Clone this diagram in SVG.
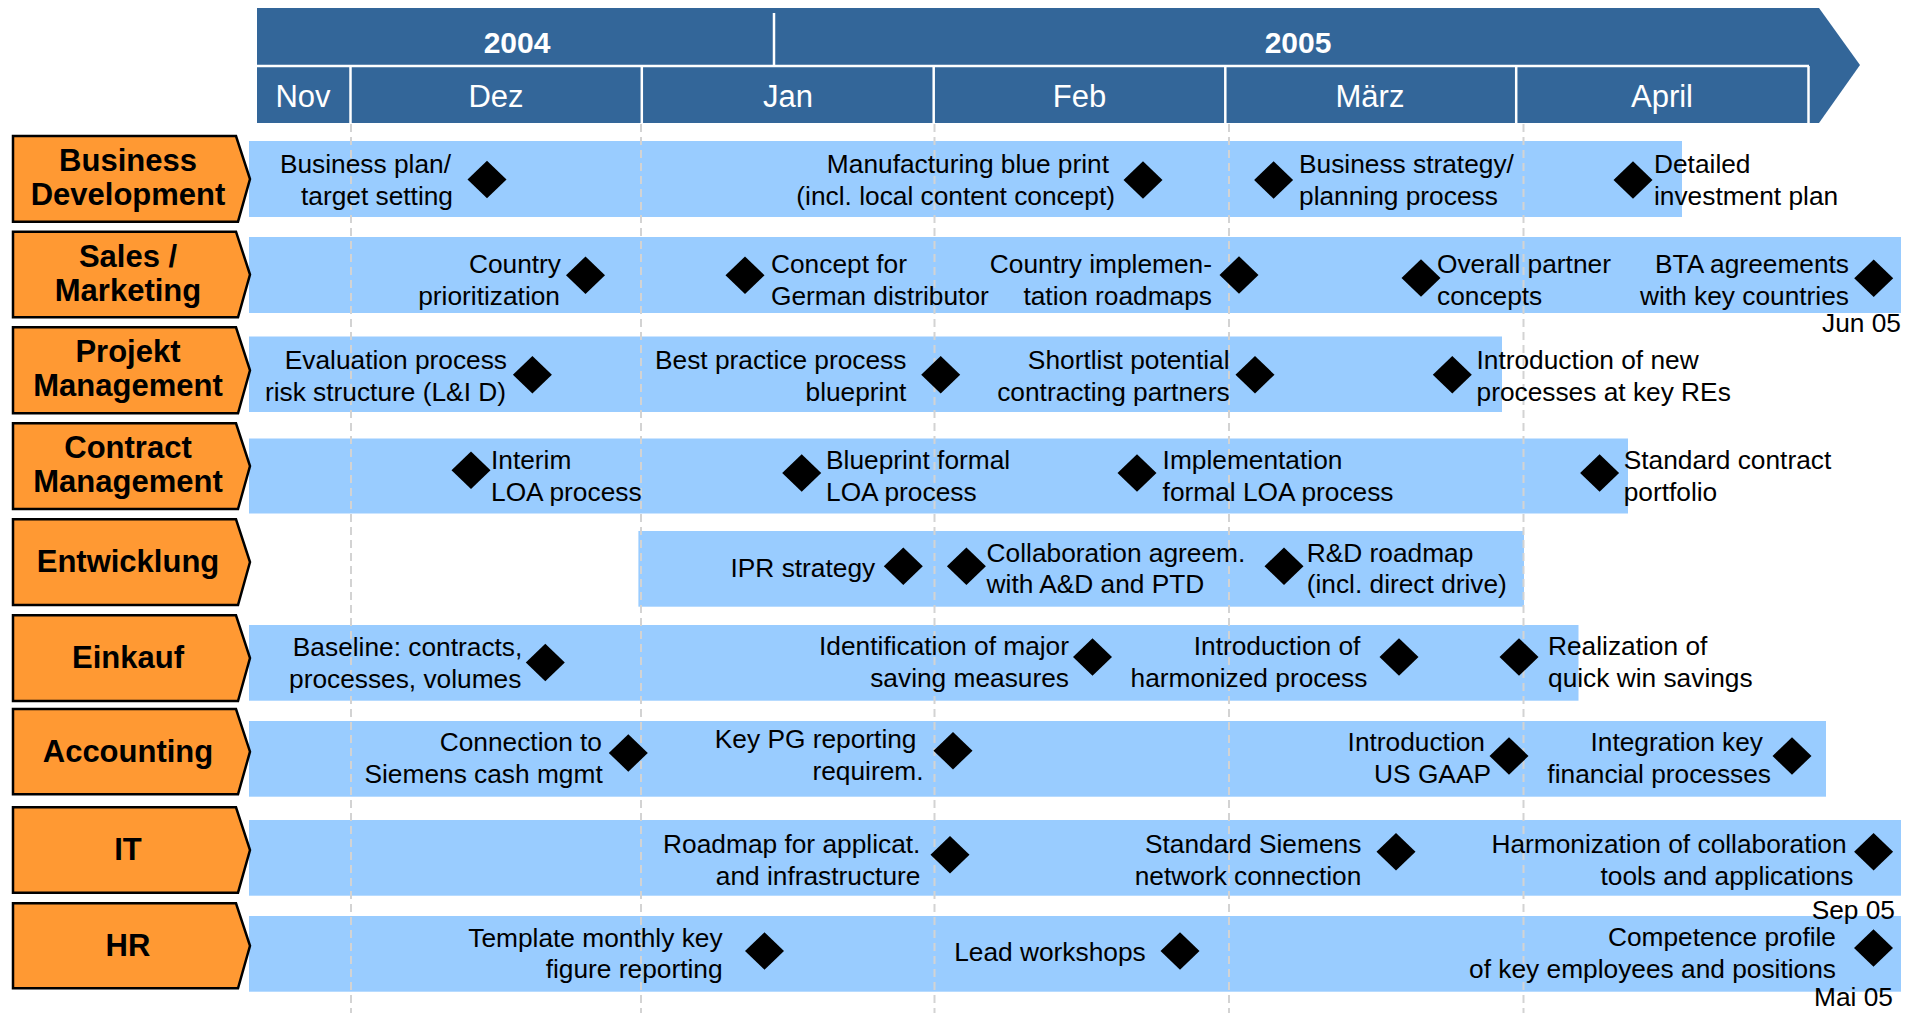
<svg xmlns="http://www.w3.org/2000/svg" xmlns:xlink="http://www.w3.org/1999/xlink" width="1921" height="1013" viewBox="0 0 1921 1013">
  <defs>
    <style>
      .hdr { fill: #336699; }
      .sep { stroke: #ffffff; stroke-width: 2.5; fill: none; }
      .yr { font-family: "Liberation Sans", Arial, sans-serif; font-size: 30px; font-weight: bold; fill: #ffffff; text-anchor: middle; }
      .mo { font-family: "Liberation Sans", Arial, sans-serif; font-size: 31px; fill: #ffffff; text-anchor: middle; }
      .lbl { fill: #ff9933; stroke: #000000; stroke-width: 2.5; stroke-linejoin: miter; }
      .lt { font-family: "Liberation Sans", Arial, sans-serif; font-size: 31px; font-weight: bold; fill: #000000; text-anchor: middle; }
      .bar { fill: #99ccff; }
      .grid { stroke: #d3d3d3; stroke-width: 2; stroke-dasharray: 8 5; fill: none; }
      .t { font-family: "Liberation Sans", Arial, sans-serif; font-size: 26.3px; fill: #000000; }
      .e { text-anchor: end; }
      .s { text-anchor: start; }
      .ms { fill: #000000; }
    </style>
    <path id="ms" class="ms" d="M0,-18.7 L19.5,0 L0,18.7 L-19.5,0 Z"/>
  </defs>

  <rect width="1921" height="1013" fill="#ffffff"/>

  <!-- timeline header -->
  <g id="timeline">
    <polygon class="hdr" points="257,8 1819,8 1860,65 1819,123 257,123"/>
    <line class="sep" x1="257" y1="66" x2="1809" y2="66"/>
    <line class="sep" x1="774" y1="13" x2="774" y2="65"/>
    <line class="sep" x1="350.5" y1="66" x2="350.5" y2="123"/>
    <line class="sep" x1="641.8" y1="66" x2="641.8" y2="123"/>
    <line class="sep" x1="933.7" y1="66" x2="933.7" y2="123"/>
    <line class="sep" x1="1225.3" y1="66" x2="1225.3" y2="123"/>
    <line class="sep" x1="1516.2" y1="66" x2="1516.2" y2="123"/>
    <line class="sep" x1="1808.5" y1="66" x2="1808.5" y2="123"/>
    <text class="yr" x="517" y="53">2004</text>
    <text class="yr" x="1298" y="53">2005</text>
    <text class="mo" x="303" y="107">Nov</text>
    <text class="mo" x="496" y="107">Dez</text>
    <text class="mo" x="788" y="107">Jan</text>
    <text class="mo" x="1079.5" y="107">Feb</text>
    <text class="mo" x="1370" y="107">März</text>
    <text class="mo" x="1662" y="107">April</text>
  </g>

  <!-- activity bars -->
  <g id="bars">
    <rect class="bar" x="249" y="141" width="1433" height="76"/>
    <rect class="bar" x="249" y="237" width="1652" height="76"/>
    <rect class="bar" x="249" y="336.5" width="1253" height="75.5"/>
    <rect class="bar" x="249" y="438.5" width="1379" height="75"/>
    <rect class="bar" x="638.4" y="531" width="885.6" height="75.7"/>
    <rect class="bar" x="249" y="625" width="1329.5" height="75.7"/>
    <rect class="bar" x="249" y="721" width="1577" height="75.7"/>
    <rect class="bar" x="249" y="820" width="1652" height="75.7"/>
    <rect class="bar" x="249" y="916" width="1652" height="75.7"/>
  </g>

  <!-- month grid -->
  <g id="grid">
    <line class="grid" x1="351" y1="124" x2="351" y2="1013"/>
    <line class="grid" x1="641" y1="124" x2="641" y2="1013"/>
    <line class="grid" x1="934.5" y1="124" x2="934.5" y2="1013"/>
    <line class="grid" x1="1229" y1="124" x2="1229" y2="1013"/>
    <line class="grid" x1="1523.5" y1="124" x2="1523.5" y2="1013"/>
  </g>

  <!-- Business Development -->
  <g id="business-development">
    <polygon class="lbl" points="13,136 236,136 250,179 238,221.7 13,221.7"/>
    <text class="lt" x="128" y="171">Business</text>
    <text class="lt" x="128" y="205">Development</text>
    <text class="t e" x="451" y="173">Business plan/</text>
    <text class="t e" x="453" y="205">target setting</text>
    <use xlink:href="#ms" x="487" y="179.5"/>
    <text class="t e" x="1109" y="173">Manufacturing blue print</text>
    <text class="t e" x="1115" y="205">(incl. local content concept)</text>
    <use xlink:href="#ms" x="1143" y="180"/>
    <use xlink:href="#ms" x="1273.6" y="180"/>
    <text class="t s" x="1299" y="173">Business strategy/</text>
    <text class="t s" x="1299" y="205">planning process</text>
    <use xlink:href="#ms" x="1633" y="180"/>
    <text class="t s" x="1654" y="173">Detailed</text>
    <text class="t s" x="1654" y="205">investment plan</text>
  </g>

  <!-- Sales / Marketing -->
  <g id="sales-marketing">
    <polygon class="lbl" points="13,231.7 236,231.7 250,274.5 238,317.3 13,317.3"/>
    <text class="lt" x="128" y="266.5">Sales /</text>
    <text class="lt" x="128" y="300.5">Marketing</text>
    <text class="t e" x="561" y="273">Country</text>
    <text class="t e" x="560" y="305">prioritization</text>
    <use xlink:href="#ms" x="585.5" y="275.3"/>
    <use xlink:href="#ms" x="745" y="275.3"/>
    <text class="t s" x="771" y="273">Concept for</text>
    <text class="t s" x="771" y="305">German distributor</text>
    <text class="t e" x="1212" y="273">Country implemen-</text>
    <text class="t e" x="1212" y="305">tation roadmaps</text>
    <use xlink:href="#ms" x="1239" y="275"/>
    <use xlink:href="#ms" x="1421" y="278"/>
    <text class="t s" x="1437" y="273">Overall partner</text>
    <text class="t s" x="1437" y="305">concepts</text>
    <text class="t e" x="1849" y="273">BTA agreements</text>
    <text class="t e" x="1849" y="305">with key countries</text>
    <use xlink:href="#ms" x="1873.7" y="278.3"/>
    <text class="t e" x="1901" y="331.7">Jun 05</text>
  </g>

  <!-- Projekt Management -->
  <g id="projekt-management">
    <polygon class="lbl" points="13,327.3 236,327.3 250,370.3 238,413.3 13,413.3"/>
    <text class="lt" x="128" y="362">Projekt</text>
    <text class="lt" x="128" y="396">Management</text>
    <text class="t e" x="507" y="369">Evaluation process</text>
    <text class="t e" x="506" y="401">risk structure (L&amp;I D)</text>
    <use xlink:href="#ms" x="532.4" y="374.7"/>
    <text class="t e" x="906.4" y="369">Best practice process</text>
    <text class="t e" x="906.4" y="401">blueprint</text>
    <use xlink:href="#ms" x="940.7" y="374.7"/>
    <text class="t e" x="1229.6" y="369">Shortlist potential</text>
    <text class="t e" x="1229.6" y="401">contracting partners</text>
    <use xlink:href="#ms" x="1255" y="374.7"/>
    <use xlink:href="#ms" x="1452.3" y="374.7"/>
    <text class="t s" x="1476.5" y="369">Introduction of new</text>
    <text class="t s" x="1476.5" y="401">processes at key REs</text>
  </g>

  <!-- Contract Management -->
  <g id="contract-management">
    <polygon class="lbl" points="13,423.3 236,423.3 250,466 238,509 13,509"/>
    <text class="lt" x="128" y="458">Contract</text>
    <text class="lt" x="128" y="492">Management</text>
    <use xlink:href="#ms" x="471" y="470.3"/>
    <text class="t s" x="491" y="469">Interim</text>
    <text class="t s" x="491" y="501">LOA process</text>
    <use xlink:href="#ms" x="801.7" y="473"/>
    <text class="t s" x="826" y="469">Blueprint formal</text>
    <text class="t s" x="826" y="501">LOA process</text>
    <use xlink:href="#ms" x="1137" y="473"/>
    <text class="t s" x="1162.6" y="469">Implementation</text>
    <text class="t s" x="1162.6" y="501">formal LOA process</text>
    <use xlink:href="#ms" x="1599.6" y="473"/>
    <text class="t s" x="1623.7" y="469">Standard contract</text>
    <text class="t s" x="1623.7" y="501">portfolio</text>
  </g>

  <!-- Entwicklung -->
  <g id="entwicklung">
    <polygon class="lbl" points="13,519.3 236,519.3 250,562 238,605 13,605"/>
    <text class="lt" x="128" y="572">Entwicklung</text>
    <text class="t e" x="875.2" y="577">IPR strategy</text>
    <use xlink:href="#ms" x="903.3" y="566.3"/>
    <use xlink:href="#ms" x="966.4" y="566.3"/>
    <text class="t s" x="986.6" y="561.5">Collaboration agreem.</text>
    <text class="t s" x="986.6" y="593">with A&amp;D and PTD</text>
    <use xlink:href="#ms" x="1284" y="566.3"/>
    <text class="t s" x="1306.7" y="561.5">R&amp;D roadmap</text>
    <text class="t s" x="1306.7" y="593">(incl. direct drive)</text>
  </g>

  <!-- Einkauf -->
  <g id="einkauf">
    <polygon class="lbl" points="13,615.3 236,615.3 250,658 238,701 13,701"/>
    <text class="lt" x="128" y="668">Einkauf</text>
    <text class="t e" x="522.3" y="656">Baseline: contracts,</text>
    <text class="t e" x="521.4" y="688">processes, volumes</text>
    <use xlink:href="#ms" x="545.3" y="662.5"/>
    <text class="t e" x="1069" y="655">Identification of major</text>
    <text class="t e" x="1069" y="687">saving measures</text>
    <use xlink:href="#ms" x="1092.5" y="657"/>
    <text class="t e" x="1360.4" y="655">Introduction of</text>
    <text class="t e" x="1367.4" y="687">harmonized process</text>
    <use xlink:href="#ms" x="1399" y="657"/>
    <use xlink:href="#ms" x="1519" y="657"/>
    <text class="t s" x="1548" y="655">Realization of</text>
    <text class="t s" x="1548" y="687">quick win savings</text>
  </g>

  <!-- Accounting -->
  <g id="accounting">
    <polygon class="lbl" points="13,709 236,709 250,751.7 238,794.3 13,794.3"/>
    <text class="lt" x="128" y="762">Accounting</text>
    <text class="t e" x="602" y="751">Connection to</text>
    <text class="t e" x="602.7" y="783">Siemens cash mgmt</text>
    <use xlink:href="#ms" x="628.3" y="753"/>
    <text class="t e" x="916.5" y="748">Key PG reporting</text>
    <text class="t e" x="923.5" y="780">requirem.</text>
    <use xlink:href="#ms" x="953" y="750.7"/>
    <text class="t e" x="1485" y="751">Introduction</text>
    <text class="t e" x="1491" y="783">US GAAP</text>
    <use xlink:href="#ms" x="1509" y="756"/>
    <text class="t e" x="1763" y="751">Integration key</text>
    <text class="t e" x="1771" y="783">financial processes</text>
    <use xlink:href="#ms" x="1792" y="756"/>
  </g>

  <!-- IT -->
  <g id="it">
    <polygon class="lbl" points="13,807.3 236,807.3 250,850 238,892.7 13,892.7"/>
    <text class="lt" x="128" y="860">IT</text>
    <text class="t e" x="920.4" y="853">Roadmap for applicat.</text>
    <text class="t e" x="920.4" y="885">and infrastructure</text>
    <use xlink:href="#ms" x="950" y="854.7"/>
    <text class="t e" x="1361.3" y="853">Standard Siemens</text>
    <text class="t e" x="1361.3" y="885">network connection</text>
    <use xlink:href="#ms" x="1396" y="851.7"/>
    <text class="t e" x="1846.6" y="853">Harmonization of collaboration</text>
    <text class="t e" x="1853.4" y="885">tools and applications</text>
    <use xlink:href="#ms" x="1873.6" y="851.7"/>
    <text class="t e" x="1895" y="919">Sep 05</text>
  </g>

  <!-- HR -->
  <g id="hr">
    <polygon class="lbl" points="13,903.3 236,903.3 250,945.8 238,988.3 13,988.3"/>
    <text class="lt" x="128" y="956">HR</text>
    <text class="t e" x="722.6" y="946.5">Template monthly key</text>
    <text class="t e" x="722.6" y="978">figure reporting</text>
    <use xlink:href="#ms" x="764.5" y="951"/>
    <text class="t e" x="1145.7" y="961">Lead workshops</text>
    <use xlink:href="#ms" x="1180" y="951"/>
    <text class="t e" x="1836" y="945.7">Competence profile</text>
    <text class="t e" x="1836" y="977.7">of key employees and positions</text>
    <use xlink:href="#ms" x="1873.5" y="948"/>
    <text class="t e" x="1893" y="1006">Mai 05</text>
  </g>
</svg>
